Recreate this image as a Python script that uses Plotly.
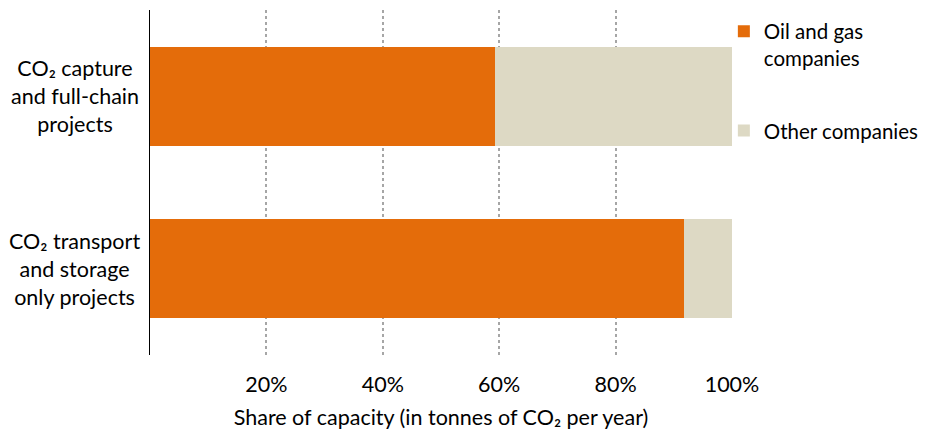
import plotly.graph_objects as go

categories = ["CO₂ capture<br>and full-chain<br>projects", "CO₂ transport<br>and storage<br>only projects"]
oil_gas = [59.3, 91.8]
other = [40.7, 8.2]
tick_vals = [20, 40, 60, 80, 100]
tick_text = ["20%", "40%", "60%", "80%", "100%"]

FONT = "Lato"
FS = 21.5
ORANGE = "#E46C0A"
BEIGE = "#DDD9C4"

ycats = ["cap", "trans"]

fig = go.Figure()
fig.add_trace(go.Bar(y=ycats, x=oil_gas, orientation="h", name="Oil and gas<br>companies",
                     marker=dict(color=ORANGE, line=dict(width=0)), width=0.574, legendgroup="a"))
fig.add_trace(go.Bar(y=ycats, x=other, orientation="h", name="Other companies",
                     marker=dict(color=BEIGE, line=dict(width=0)), width=0.574, legendgroup="b"))

for yc, lab in zip(ycats, categories):
    fig.add_annotation(x=-0.129, xref="paper", y=yc, yref="y", text=lab, showarrow=False,
                       xanchor="center", yanchor="middle", align="center",
                       font=dict(family=FONT, size=FS, color="#000000"))

fig.update_layout(
    barmode="stack",
    width=922, height=423,
    margin=dict(l=142, r=198, t=2, b=76, autoexpand=False),
    plot_bgcolor="white", paper_bgcolor="white",
    font=dict(family=FONT, size=FS, color="#000000"),
    legend=dict(x=0.986, y=0.996, xanchor="left", yanchor="top", traceorder="grouped",
                tracegroupgap=43, valign="top", font=dict(family=FONT, size=20.5, color="#000000"),
                itemwidth=30, bgcolor="rgba(0,0,0,0)"),
    xaxis=dict(range=[0, 100], tickvals=tick_vals, ticktext=tick_text, showgrid=True,
               gridcolor="#A6A6A6", griddash="dot", gridwidth=2, zeroline=False,
               showline=False, ticks="", ticklabelstandoff=14,
               title=dict(text="Share of capacity (in tonnes of CO₂ per year)", standoff=14,
                          font=dict(family=FONT, size=FS))),
    yaxis=dict(autorange="reversed", showticklabels=False, showline=True, linecolor="#000000",
               linewidth=1, ticks="", showgrid=False, zeroline=False),
)

fig.write_html("out.html")
